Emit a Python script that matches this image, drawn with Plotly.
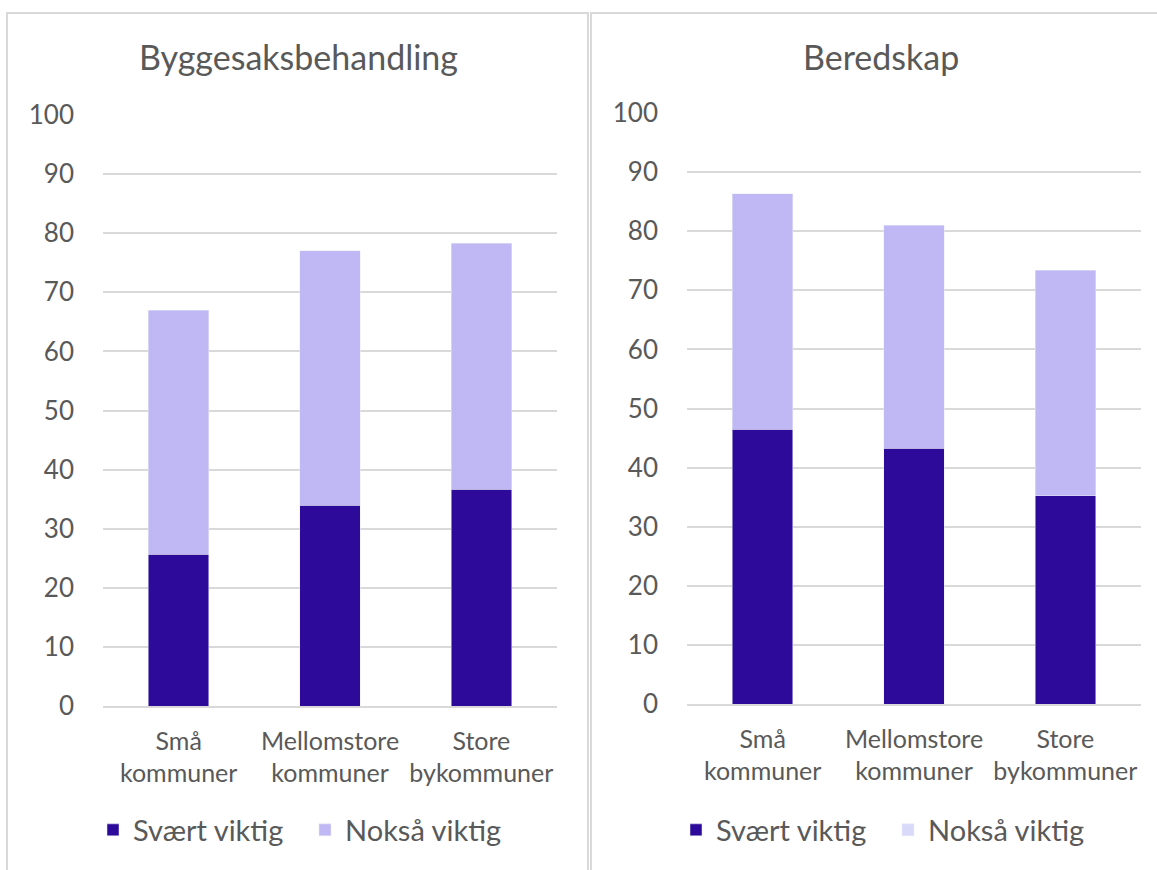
import plotly.graph_objects as go

categories = ["Små<br>kommuner", "Mellomstore<br>kommuner", "Store<br>bykommuner"]
bygg_svaert = [25.7, 34.0, 36.7]
bygg_noksa = [41.3, 43.0, 41.6]
bered_svaert = [46.5, 43.3, 35.2]
bered_noksa = [39.8, 37.7, 38.2]
titles = ["Byggesaksbehandling", "Beredskap"]
y_ticks = [0, 10, 20, 30, 40, 50, 60, 70, 80, 90, 100]

DARK = "#2E0A9A"
LIGHT = "#C0B8F4"
LIGHT_LEG2 = "#D9D9FA"
TXT = "#595959"
GRID = "#D9D9D9"
FONT = "Lato, 'Open Sans', sans-serif"

W, H = 1157, 870

fig = go.Figure()
fig.add_trace(go.Bar(x=categories, y=bygg_svaert, name="Svært viktig", marker_color=DARK,
                     width=0.4, xaxis="x", yaxis="y", legend="legend"))
fig.add_trace(go.Bar(x=categories, y=bygg_noksa, name="Nokså viktig", marker_color=LIGHT,
                     width=0.4, xaxis="x", yaxis="y", legend="legend"))
fig.add_trace(go.Bar(x=categories, y=bered_svaert, name="Svært viktig", marker_color=DARK,
                     width=0.4, xaxis="x2", yaxis="y2", showlegend=False))
fig.add_trace(go.Bar(x=categories, y=bered_noksa, name="Nokså viktig", marker_color=LIGHT,
                     width=0.4, xaxis="x2", yaxis="y2", showlegend=False))
# legend-only entries for right panel
fig.add_trace(go.Bar(x=[None], y=[None], name="Svært viktig", marker_color=DARK,
                     xaxis="x2", yaxis="y2", legend="legend2"))
fig.add_trace(go.Bar(x=[None], y=[None], name="Nokså viktig", marker_color=LIGHT_LEG2,
                     xaxis="x2", yaxis="y2", legend="legend2"))

def px(v):
    return v / W

def py(v):
    return 1 - v / H

axis_common = dict(
    showgrid=False, showline=True, linecolor=GRID, linewidth=1.5,
    ticks="", ticklabelstandoff=12, tickfont=dict(family=FONT, size=25, color=TXT),
)
yaxis_common = dict(
    range=[0, 100], tickvals=y_ticks, showgrid=True, gridcolor=GRID, gridwidth=1.5,
    zeroline=False, showline=False, ticks="", ticklabelstandoff=28,
    tickfont=dict(family=FONT, size=26, color=TXT),
)
legend_common = dict(
    orientation="h", xanchor="left", yanchor="middle", traceorder="normal",
    font=dict(family=FONT, size=29, color=TXT), itemwidth=30,
    entrywidth=167, entrywidthmode="pixels", bgcolor="rgba(0,0,0,0)",
)

fig.update_layout(
    width=W, height=H,
    margin=dict(l=0, r=0, t=0, b=0, autoexpand=False),
    paper_bgcolor="white", plot_bgcolor="white",
    barmode="stack", bargap=0.6,
    font=dict(family=FONT, color=TXT),
    xaxis=dict(domain=[px(103), px(557)], anchor="y", **axis_common),
    yaxis=dict(domain=[py(706), py(115)], anchor="x", **yaxis_common),
    xaxis2=dict(domain=[px(687), px(1141)], anchor="y2", **axis_common),
    yaxis2=dict(domain=[py(704), py(113)], anchor="x2", **yaxis_common),
    legend=dict(x=px(93), y=py(830), **legend_common),
    legend2=dict(x=px(676), y=py(830), **legend_common),
    shapes=[
        dict(type="rect", xref="paper", yref="paper", x0=px(7), x1=px(588), y0=py(880), y1=py(13),
             line=dict(color=GRID, width=2), layer="below"),
        dict(type="rect", xref="paper", yref="paper", x0=px(591), x1=px(1170), y0=py(880), y1=py(13),
             line=dict(color=GRID, width=2), layer="below"),
    ],
    annotations=[
        dict(text=titles[0], x=px(298), y=py(56), xref="paper", yref="paper", showarrow=False,
             xanchor="center", yanchor="middle", font=dict(family=FONT, size=34, color=TXT)),
        dict(text=titles[1], x=px(881), y=py(56), xref="paper", yref="paper", showarrow=False,
             xanchor="center", yanchor="middle", font=dict(family=FONT, size=34, color=TXT)),
    ],
)

fig.write_html("out.html", config={"displayModeBar": False},
               post_script="document.body.style.margin='0';")
